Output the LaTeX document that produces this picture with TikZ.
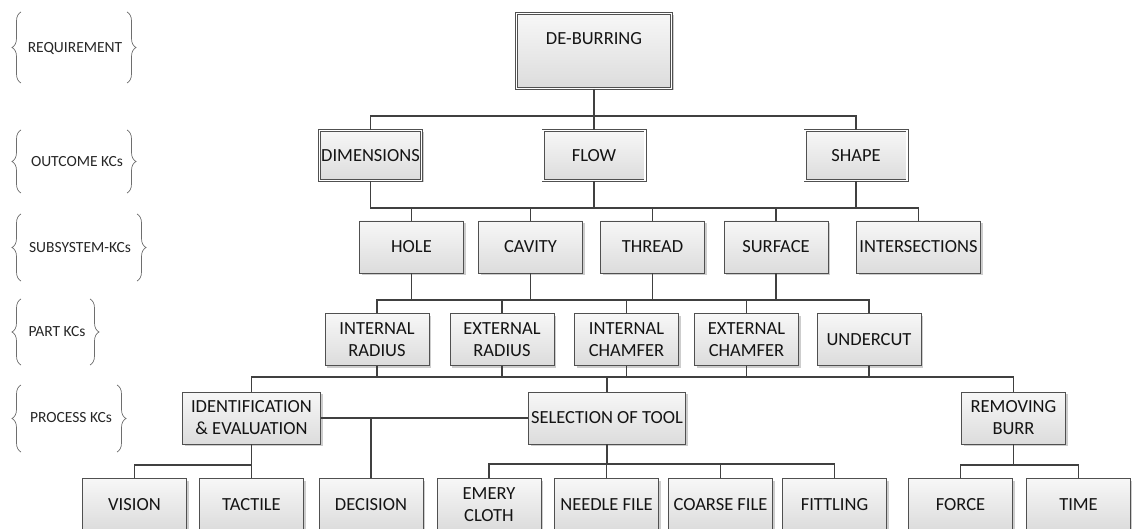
\documentclass[tikz,border=0pt]{standalone}
\usepackage{fontspec}
\setmainfont{Carlito}
\usetikzlibrary{shadows,decorations.pathreplacing,calc}
\definecolor{boxtop}{RGB}{247,247,247}
\definecolor{boxbot}{RGB}{220,220,220}
\definecolor{edge}{RGB}{80,80,80}
\definecolor{wire}{RGB}{64,64,64}
\definecolor{txt}{RGB}{20,20,20}
\definecolor{lbltxt}{RGB}{38,38,38}
\definecolor{brc}{RGB}{110,110,110}
\definecolor{shd}{RGB}{205,205,205}
\tikzset{
  kbox/.style={draw=edge, line width=0.9pt, top color=boxtop, bottom color=boxbot,
    minimum width=104pt, minimum height=52pt, inner sep=1pt, align=center, text=txt,
    font=\fontsize{18.5}{22}\selectfont,
    drop shadow={shadow xshift=2pt, shadow yshift=-2pt, fill=shd, opacity=1}},
  dbox/.style={kbox, double=white, double distance=1.6pt, line width=0.7pt,
    minimum width=102pt, minimum height=50pt},
  wirel/.style={draw=wire, line width=1.3pt},
  lbl/.style={text=lbltxt, font=\fontsize{15.5}{18}\selectfont, inner sep=0pt},
  brc/.style={draw=brc, line width=0.7pt, decorate, decoration={brace, amplitude=9pt}},
}
\begin{document}
\begin{tikzpicture}[x=1pt,y=-1pt]
\useasboundingbox (0,0) rectangle (1132,529);
\clip (0,0) rectangle (1132,529);

% ---- level labels with braces
\node[lbl] (lreq) at (75,48) {REQUIREMENT};
\draw[brc] (21,83) -- (21,12);
\draw[brc] (127,12) -- (127,83);
\node[lbl] (lout) at (77,162) {OUTCOME KCs};
\draw[brc] (21,193) -- (21,130);
\draw[brc] (127,130) -- (127,193);
\node[lbl] (lsub) at (80,248) {SUBSYSTEM-KCs};
\draw[brc] (21,281) -- (21,214);
\draw[brc] (137,214) -- (137,281);
\node[lbl] (lpart) at (57,332) {PART KCs};
\draw[brc] (21,365) -- (21,299);
\draw[brc] (90,299) -- (90,365);
\node[lbl] (lproc) at (71,418) {PROCESS KCs};
\draw[brc] (21,452) -- (21,385);
\draw[brc] (117,385) -- (117,452);

% ---- requirement
\node[dbox, minimum width=155pt, minimum height=75pt, text depth=24pt] (deb) at (594,51) {DE-BURRING};

% ---- outcome
\node[dbox] (dim) at (370.5,155.5) {DIMENSIONS};
\node[dbox] (flow) at (594,155.5) {FLOW};
\node[dbox] (shape) at (856,155.5) {SHAPE};

% ---- subsystem
\node[kbox] (hole) at (411.5,247) {HOLE};
\node[kbox] (cavity) at (530.5,247) {CAVITY};
\node[kbox] (thread) at (652.5,247) {THREAD};
\node[kbox] (surface) at (776,247) {SURFACE};
\node[kbox, minimum width=124pt] (inter) at (918.5,247) {INTERSECTIONS};

% ---- part
\node[kbox] (ir) at (377,339.5) {INTERNAL\\RADIUS};
\node[kbox] (er) at (502,339.5) {EXTERNAL\\RADIUS};
\node[kbox] (ic) at (626.5,339.5) {INTERNAL\\CHAMFER};
\node[kbox] (ec) at (746.5,339.5) {EXTERNAL\\CHAMFER};
\node[kbox] (uc) at (869,339.5) {UNDERCUT};

% ---- process
\node[kbox, minimum width=138pt] (ident) at (251.5,418) {IDENTIFICATION\\\& EVALUATION};
\node[kbox, minimum width=157pt] (sel) at (607,418) {SELECTION OF TOOL};
\node[kbox] (rem) at (1013.5,418) {REMOVING\\BURR};

% ---- bottom row
\node[kbox] (vision) at (134.5,504.5) {VISION};
\node[kbox] (tactile) at (251.5,504.5) {TACTILE};
\node[kbox] (decision) at (371,504.5) {DECISION};
\node[kbox] (emery) at (489,504.5) {EMERY\\CLOTH};
\node[kbox] (needle) at (606.5,504.5) {NEEDLE FILE};
\node[kbox] (coarse) at (720.5,504.5) {COARSE FILE};
\node[kbox] (fitt) at (834.5,504.5) {FITTLING};
\node[kbox] (force) at (960.5,504.5) {FORCE};
\node[kbox] (time) at (1078.5,504.5) {TIME};

% ---- connectors
\coordinate (b1) at (594,116);
\draw[wirel] (deb.south) -- (flow.north);
\draw[wirel] (dim.north) |- (b1) -| (shape.north);

\coordinate (b2) at (594,208);
\draw[wirel] (flow.south) -- (b2);
\draw[wirel] (dim.south) |- (b2) -| (inter.north);
\draw[wirel] (shape.south) -- (shape.south |- b2);
\foreach \n in {hole,cavity,thread,surface}
  \draw[wirel] (\n.north) -- (\n.north |- b2);

\coordinate (b3) at (626.5,300);
\draw[wirel] (ir.north) |- (b3) -| (uc.north);
\foreach \n in {er,ic,ec}
  \draw[wirel] (\n.north) -- (\n.north |- b3);
\foreach \n in {hole,cavity,thread,surface}
  \draw[wirel] (\n.south) -- (\n.south |- b3);

\coordinate (b4) at (607,377);
\draw[wirel] (ident.north) |- (b4) -| (rem.north);
\draw[wirel] (sel.north) -- (b4);
\foreach \n in {ir,er,ic,ec,uc}
  \draw[wirel] (\n.south) -- (\n.south |- b4);

\draw[wirel] (ident.east) -- (sel.west);
\draw[wirel] (decision.north) -- (decision.north |- ident.east);

\coordinate (b5) at (251.5,465);
\draw[wirel] (ident.south) -- (tactile.north);
\draw[wirel] (vision.north) |- (b5);

\coordinate (b6) at (607,464);
\draw[wirel] (sel.south) -- (b6);
\draw[wirel] (emery.north) |- (b6) -| (fitt.north);
\foreach \n in {needle,coarse}
  \draw[wirel] (\n.north) -- (\n.north |- b6);

\coordinate (b7) at (1013.5,465);
\draw[wirel] (rem.south) -- (b7);
\draw[wirel] (force.north) |- (b7) -| (time.north);
\end{tikzpicture}
\end{document}
